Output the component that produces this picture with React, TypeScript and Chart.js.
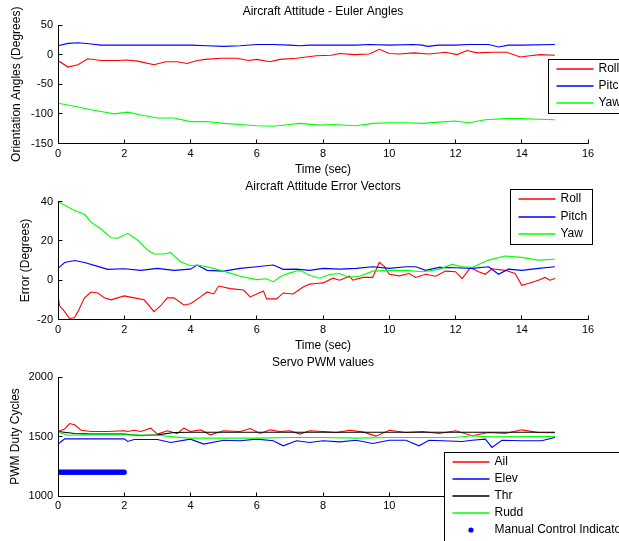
import React, { useEffect, useRef } from "react";
import { Chart, registerables } from "chart.js";

Chart.register(...registerables);

const FONT = "'Liberation Sans', Arial, Helvetica, sans-serif";
Chart.defaults.font.family = FONT;
Chart.defaults.color = "#000";

// ---------- Plot 1: Euler angles ----------
const roll1T = [0, 0.3, 0.6, 0.9, 1.3, 1.8, 2.05, 2.4, 2.9, 3.25, 3.6, 3.9, 4.2, 4.45, 4.9, 5.4, 5.75, 6.0, 6.4, 6.7, 7.2, 7.8, 8.25, 8.5, 8.95, 9.4, 9.7, 10.0, 10.3, 10.75, 11.2, 11.7, 12.05, 12.35, 12.65, 13.1, 13.55, 13.95, 14.25, 14.55, 15];
const roll1V = [-10, -21, -17, -7, -10, -10, -9, -11, -17, -12, -12, -15, -10, -8, -6, -6, -10, -8, -12, -8, -6, -2, -1, 2, 0, 1, 9, 2, 1, 3, 1, 4, 0, 7, 3, 4, 4, -4, -2, 0, -1];
const pitch1T = [0, 0.3, 0.6, 1.0, 1.3, 2, 3, 4, 4.5, 5, 5.5, 6, 6.5, 7, 7.3, 7.6, 8, 9, 9.4, 10, 10.7, 11, 11.15, 11.5, 12, 12.4, 13, 13.3, 13.6, 14, 15];
const pitch1V = [15, 19, 20, 18, 16, 16, 16, 16, 15, 14, 15, 17, 17, 16, 15, 16, 16, 16, 17, 16, 17, 16, 14, 16, 16, 17, 17, 13, 16, 16, 17];
const yaw1T = [0, 0.5, 1.0, 1.3, 1.7, 2.1, 2.5, 3, 3.5, 4, 4.5, 5, 5.5, 6, 6.5, 7, 7.3, 7.9, 8.3, 9, 9.5, 10, 10.5, 11, 11.5, 12, 12.4, 12.9, 13.5, 14, 14.5, 15];
const yaw1V = [-82, -87, -93, -96, -100, -97, -102, -107, -107, -113, -113, -116, -118, -120, -121, -118, -116, -119, -118, -120, -116, -115, -115, -116, -114, -112, -115, -110, -108, -108, -109, -110];

// ---------- Plot 2: Error vectors ----------
const roll2T = [0, 0.05, 0.2, 0.35, 0.5, 0.6, 0.8, 1.0, 1.2, 1.4, 1.6, 2.0, 2.3, 2.6, 2.9, 3.1, 3.3, 3.5, 3.8, 4.0, 4.3, 4.5, 4.7, 4.85, 5.2, 5.6, 5.8, 6.0, 6.2, 6.3, 6.6, 6.8, 7.1, 7.4, 7.6, 7.8, 8.0, 8.3, 8.5, 8.8, 8.9, 9.2, 9.5, 9.7, 9.85, 10.0, 10.3, 10.6, 10.8, 11.1, 11.4, 11.7, 12.0, 12.2, 12.45, 12.7, 12.9, 13.1, 13.5, 13.8, 14.0, 14.2, 14.5, 14.7, 14.85, 15.0];
const roll2V = [-8, -13, -16, -19.6, -19, -16, -9, -6, -6.5, -9, -10, -8, -9, -10, -16, -13, -9, -9, -12.6, -12, -8.5, -6, -7, -3, -4.3, -5, -8.5, -7, -5.5, -9.5, -9.5, -6.5, -7, -3.5, -2, -1.7, -1.4, 1, 0, 2, 0, 1.4, 1.4, 9, 7, 3, 2.2, 3.4, 1.4, 3, 2, 4.6, 4.3, 0.8, 6.3, 4.3, 3, 5.8, 5, 3.4, -2.6, -1.7, 0, 1.4, 0, 0.8];
const pitch2T = [0, 0.2, 0.5, 0.8, 1.2, 1.5, 2, 2.5, 3, 3.5, 4, 4.2, 4.5, 5, 5.5, 6, 6.5, 6.8, 7.2, 7.6, 8, 8.5, 9, 9.5, 10, 10.5, 10.8, 11.1, 11.5, 12, 12.5, 13, 13.3, 13.6, 14, 14.5, 15];
const pitch2V = [6, 9, 10, 9, 7, 5.5, 5.8, 5, 6, 5, 5.6, 7.7, 5, 4.6, 6, 6.8, 7.7, 5.5, 5.6, 5, 6, 5.6, 6, 6.8, 6, 6.8, 6.8, 5, 6.5, 6.3, 6, 6.8, 3, 5.6, 5, 6, 6.8];
const yaw2T = [0, 0.1, 0.5, 0.8, 1.0, 1.3, 1.6, 1.8, 2.1, 2.4, 2.7, 2.9, 3.2, 3.4, 3.7, 4.0, 4.2, 4.5, 5, 5.5, 6, 6.3, 6.5, 6.7, 7, 7.3, 7.6, 7.9, 8.2, 8.5, 8.8, 9.1, 9.5, 10, 10.5, 11, 11.5, 11.9, 12.2, 12.5, 13, 13.5, 14, 14.5, 15];
const yaw2V = [40, 39, 35.4, 33.5, 29.5, 26, 21.6, 21.3, 23.8, 20.4, 15.3, 13.3, 13.3, 14, 9.4, 7.3, 7.7, 6.8, 4.6, 2, 0.3, 0.7, -0.9, 1.7, 3.7, 5, 2.5, 1, 2.9, 3.4, 1.4, 2, 4.6, 5, 5, 4.3, 5.5, 8, 6.8, 6.5, 10.2, 12.3, 11.6, 10.2, 10.6];

// ---------- Plot 3: Servo PWM ----------
const ailT = [0, 0.2, 0.35, 0.5, 0.7, 1.0, 1.5, 2.0, 2.1, 2.3, 2.5, 2.8, 3.0, 3.3, 3.6, 3.8, 4.0, 4.3, 4.6, 5.0, 5.5, 5.8, 6.1, 6.4, 6.7, 7.0, 7.3, 7.6, 8.0, 8.4, 8.8, 9.2, 9.6, 10.0, 10.5, 11.0, 11.5, 12.0, 12.5, 13, 13.5, 14, 14.5, 15];
const ailV = [1542, 1562, 1609, 1598, 1553, 1542, 1542, 1548, 1542, 1553, 1542, 1570, 1520, 1548, 1525, 1570, 1542, 1556, 1514, 1548, 1542, 1567, 1525, 1556, 1542, 1548, 1520, 1548, 1542, 1534, 1553, 1539, 1503, 1553, 1534, 1542, 1525, 1548, 1506, 1534, 1525, 1556, 1534, 1531];
const elevT = [0, 0.1, 0.2, 2.0, 2.1, 2.3, 3.0, 3.4, 4.0, 4.4, 5.0, 5.5, 6.0, 6.5, 6.8, 7.2, 7.6, 8.0, 8.5, 9.0, 9.5, 10.0, 10.5, 10.9, 11.2, 11.6, 12.2, 12.5, 12.9, 13.1, 13.4, 14, 14.6, 15];
const elevV = [1436, 1458, 1480, 1480, 1458, 1475, 1475, 1450, 1478, 1436, 1469, 1464, 1478, 1464, 1422, 1464, 1450, 1464, 1455, 1469, 1441, 1469, 1469, 1422, 1469, 1464, 1458, 1469, 1478, 1408, 1469, 1464, 1464, 1492];
const thrT = [0, 0.5, 1.0, 2.0, 2.5, 3.0, 3.5, 4.0, 15];
const thrV = [1542, 1525, 1520, 1520, 1508, 1514, 1534, 1536, 1536];
const ruddT = [0, 0.3, 1.0, 2.0, 3.0, 3.5, 4.0, 6.0, 7.0, 8.0, 9.0, 10.0, 12.0, 12.5, 13.0, 15];
const ruddV = [1539, 1511, 1514, 1514, 1511, 1497, 1486, 1486, 1492, 1492, 1486, 1492, 1492, 1506, 1497, 1500];
const manualT = [0, 0.05, 0.1, 0.15, 0.2, 0.25, 0.3, 0.35, 0.4, 0.45, 0.5, 0.55, 0.6, 0.65, 0.7, 0.75, 0.8, 0.85, 0.9, 0.95, 1, 1.05, 1.1, 1.15, 1.2, 1.25, 1.3, 1.35, 1.4, 1.45, 1.5, 1.55, 1.6, 1.65, 1.7, 1.75, 1.8, 1.85, 1.9, 1.95, 2.0];
const manualV = [1200, 1200, 1200, 1200, 1200, 1200, 1200, 1200, 1200, 1200, 1200, 1200, 1200, 1200, 1200, 1200, 1200, 1200, 1200, 1200, 1200, 1200, 1200, 1200, 1200, 1200, 1200, 1200, 1200, 1200, 1200, 1200, 1200, 1200, 1200, 1200, 1200, 1200, 1200, 1200, 1200];

const xTickValues = { min: 0, max: 16, step: 2 };

function lineDs(label: string, color: string, t: number[], v: number[], i: number) {
  return {
    label,
    data: t.map((x, k) => ({ x, y: v[k] })),
    borderColor: color,
    backgroundColor: color,
    borderWidth: 1.1,
    pointRadius: 0,
    tension: 0,
    fill: false,
    order: -i,
  };
}

function dotDs(label: string, color: string, t: number[], v: number[], i: number) {
  return {
    label,
    data: t.map((x, k) => ({ x, y: v[k] })),
    borderColor: color,
    backgroundColor: color,
    showLine: false,
    pointRadius: 2.6,
    pointBorderWidth: 0,
    pointStyle: "circle",
    order: -i,
  };
}

const matlabAxes = {
  id: "matlabAxes",
  afterDraw(chart: any, _args: any, opts: any) {
    const ctx = chart.ctx;
    const { left, right, top, bottom } = chart.chartArea;
    const xs = chart.scales.x;
    const ys = chart.scales.y;
    const L = Math.floor(left) + 0.5;
    const B = Math.floor(bottom) + 0.5;
    ctx.save();
    ctx.strokeStyle = "#000";
    ctx.lineWidth = 1;
    ctx.beginPath();
    ctx.moveTo(L, Math.floor(top));
    ctx.lineTo(L, B);
    ctx.lineTo(Math.ceil(right) + 0.5, B);
    for (const tk of xs.ticks) {
      const px = Math.floor(xs.getPixelForValue(tk.value)) + 0.5;
      ctx.moveTo(px, B);
      ctx.lineTo(px, B - 4);
    }
    for (const tk of ys.ticks) {
      const py = Math.floor(ys.getPixelForValue(tk.value)) + 0.5;
      ctx.moveTo(L, py);
      ctx.lineTo(L + 4, py);
    }
    ctx.stroke();

    // legend box (MATLAB style)
    const lg = opts.legend;
    if (lg) {
      ctx.fillStyle = "#ffffff";
      ctx.fillRect(lg.x, lg.y, lg.w, lg.h);
      ctx.strokeStyle = "#000000";
      ctx.lineWidth = 1;
      ctx.strokeRect(lg.x, lg.y, lg.w, lg.h);
      ctx.font = `12px ${FONT}`;
      ctx.textBaseline = "middle";
      ctx.textAlign = "left";
      const dsets = chart.data.datasets;
      for (let i = 0; i < dsets.length; i++) {
        const ds = dsets[i];
        const y = Math.round(lg.y + lg.first + i * lg.dy);
        const x0 = lg.x + 8;
        const x1 = lg.x + 45;
        if (ds.showLine === false) {
          ctx.fillStyle = ds.backgroundColor;
          ctx.beginPath();
          ctx.arc((x0 + x1) / 2, y, 2.6, 0, Math.PI * 2);
          ctx.fill();
        } else {
          ctx.fillStyle = ds.borderColor;
          ctx.fillRect(x0, y - 0.75, x1 - x0, 1.5);
        }
        ctx.fillStyle = "#000000";
        ctx.fillText(ds.label, lg.x + 50, y);
      }
    }
    ctx.restore();
  },
};

const plainTick = (v: any) => String(v);

function makeConfig(p: {
  title: string;
  titlePad: { top: number; bottom: number };
  yMin: number; yMax: number; yStep: number;
  yTitle: string; yTitlePad: number;
  xTitle: boolean; xHeight: number;
  datasets: any[];
  legend: any;
}) {
  return {
    type: "line",
    data: { datasets: p.datasets },
    plugins: [matlabAxes],
    options: {
      animation: false,
      responsive: false,
      devicePixelRatio: 1,
      layout: { padding: { left: 0, right: 31, top: 0, bottom: 0 } },
      plugins: {
        legend: { display: false },
        tooltip: { enabled: false },
        title: {
          display: true,
          text: p.title,
          color: "#000",
          fullSize: false,
          font: { size: 12, family: FONT, weight: "normal", lineHeight: 1 },
          padding: p.titlePad,
        },
        matlabAxes: { legend: p.legend },
      },
      scales: {
        x: {
          type: "linear",
          min: xTickValues.min,
          max: xTickValues.max,
          ticks: { stepSize: xTickValues.step, padding: 4.5, color: "#000", font: { size: 11, family: FONT, lineHeight: 1 }, maxRotation: 0, autoSkip: false, callback: plainTick },
          grid: { display: false, drawTicks: false },
          border: { display: false },
          title: { display: p.xTitle, text: "Time (sec)", color: "#000", font: { size: 12, family: FONT, lineHeight: 1 }, padding: { top: 0, bottom: 0 } },
          afterFit: (s: any) => { s.height = p.xHeight; },
        },
        y: {
          type: "linear",
          min: p.yMin,
          max: p.yMax,
          ticks: { stepSize: p.yStep, padding: 5, color: "#000", font: { size: 11, family: FONT, lineHeight: 1 }, callback: plainTick },
          grid: { display: false, drawTicks: false },
          border: { display: false },
          title: { display: true, text: p.yTitle, color: "#000", font: { size: 12, family: FONT, lineHeight: 1 }, padding: { top: p.yTitlePad, bottom: 0 } },
          afterFit: (s: any) => { s.width = 58; },
        },
      },
    },
  };
}

function SubChart({ top, height, build }: { top: number; height: number; build: () => any }) {
  const ref = useRef<HTMLCanvasElement>(null);
  useEffect(() => {
    const chart = new Chart(ref.current as HTMLCanvasElement, build());
    return () => chart.destroy();
  }, []);
  return (
    <canvas
      ref={ref}
      width={619}
      height={height}
      style={{ position: "absolute", left: 0, top, width: 619, height, display: "block" }}
    />
  );
}

export default function App() {
  const c1 = () =>
    makeConfig({
      title: "Aircraft Attitude - Euler Angles",
      titlePad: { top: 6, bottom: 7 },
      yMin: -150, yMax: 50, yStep: 50,
      yTitle: "Orientation Angles (Degrees)", yTitlePad: 11,
      xTitle: true, xHeight: 32.5,
      datasets: [
        lineDs("Roll", "#ff0000", roll1T, roll1V, 0),
        lineDs("Pitch", "#0000ff", pitch1T, pitch1V, 1),
        lineDs("Yaw", "#00ff00", yaw1T, yaw1V, 2),
      ],
      legend: { x: 548.5, y: 59.5, w: 90, h: 54, first: 9, dy: 17 },
    });
  const c2 = () =>
    makeConfig({
      title: "Aircraft Attitude Error Vectors",
      titlePad: { top: 5, bottom: 8.5 },
      yMin: -20, yMax: 40, yStep: 20,
      yTitle: "Error (Degrees)", yTitlePad: 19.7,
      xTitle: true, xHeight: 32.5,
      datasets: [
        lineDs("Roll", "#ff0000", roll2T, roll2V, 0),
        lineDs("Pitch", "#0000ff", pitch2T, pitch2V, 1),
        lineDs("Yaw", "#00ff00", yaw2T, yaw2V, 2),
      ],
      legend: { x: 510.5, y: 13.5, w: 82, h: 55, first: 9.5, dy: 17.5 },
    });
  const c3 = () =>
    makeConfig({
      title: "Servo PWM values",
      titlePad: { top: 5, bottom: 8 },
      yMin: 1000, yMax: 2000, yStep: 500,
      yTitle: "PWM Duty Cycles", yTitlePad: 9.3,
      xTitle: false, xHeight: 45,
      datasets: [
        lineDs("Ail", "#ff0000", ailT, ailV, 0),
        lineDs("Elev", "#0000ff", elevT, elevV, 1),
        lineDs("Thr", "#000000", thrT, thrV, 2),
        lineDs("Rudd", "#00ff00", ruddT, ruddV, 3),
        dotDs("Manual Control Indicator", "#0000ff", manualT, manualV, 4),
      ],
      legend: { x: 444.5, y: 100.5, w: 200, h: 100, first: 9.5, dy: 17 },
    });
  return (
    <div style={{ position: "absolute", left: 0, top: 0, width: 619, height: 541, background: "#fff", overflow: "hidden" }}>
      <SubChart top={0} height={176} build={c1} />
      <SubChart top={176} height={176} build={c2} />
      <SubChart top={352} height={189} build={c3} />
    </div>
  );
}
